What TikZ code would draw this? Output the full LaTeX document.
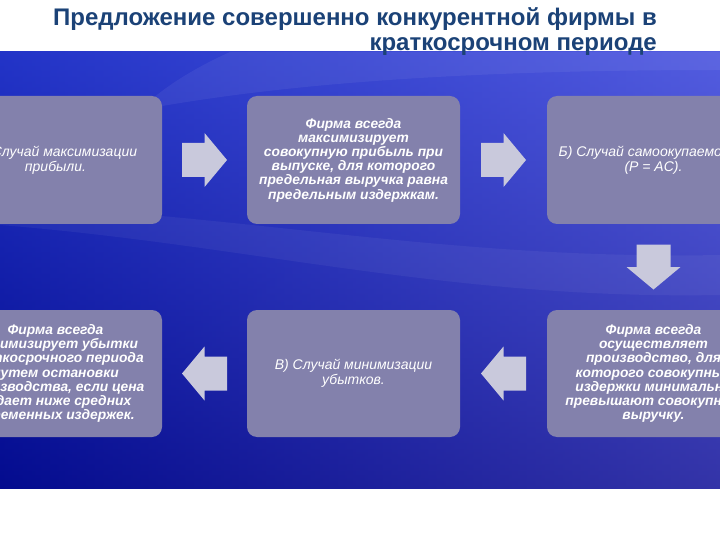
\documentclass[tikz,border=0pt]{standalone}
\usepackage{fontspec}
\setmainfont{Liberation Sans}
\usetikzlibrary{calc}
\definecolor{titleblue}{HTML}{1B4277}
\definecolor{boxgray}{HTML}{8381AC}
\definecolor{arrowgray}{HTML}{C9C9DC}
\definecolor{vtop}{RGB}{70,90,235}
\definecolor{vbot}{RGB}{8,8,120}
\definecolor{hleft}{RGB}{0,15,165}
\definecolor{hright}{RGB}{95,95,215}
\tikzset{
  box/.style={rectangle, rounded corners=10pt, fill=boxgray, minimum width=213pt, minimum height=128pt, inner sep=2pt, text=white, align=center, font=\fontsize{14}{15}\selectfont\itshape},
  boldbox/.style={box, font=\fontsize{13.8}{14.2}\selectfont\bfseries\itshape},
  barrow/.pic={\fill[arrowgray] (-22.5,-17) -- (0,-17) -- (0,-27) -- (22.5,0) -- (0,27) -- (0,17) -- (-22.5,17) -- cycle;},
}
\begin{document}
\begin{tikzpicture}[x=1pt,y=-1pt]
\useasboundingbox (0,0) rectangle (720,540);
\fill[white] (0,0) rectangle (720,540);
\begin{scope}
\clip (0,52) rectangle (720,488);
\shade[top color=vtop, bottom color=vbot] (0,52) rectangle (720,488);
\shade[left color=hleft, right color=hright, opacity=0.5] (0,52) rectangle (720,488);
\fill[white, opacity=0.05] (0,225) .. controls (250,245) and (450,300) .. (720,295) -- (720,255) .. controls (450,260) and (250,215) .. (0,205) -- cycle;
\fill[white, opacity=0.06] (140,110) .. controls (300,80) and (500,70) .. (720,70) -- (720,52) -- (230,52) .. controls (190,70) and (160,90) .. (140,110) -- cycle;
\node[box] (b1) at (55.5,160) {А) Случай максимизации\\прибыли.};
\node[boldbox] (b2) at (353.5,160) {Фирма всегда\\максимизирует\\совокупную прибыль при\\выпуске, для которого\\предельная выручка равна\\предельным издержкам.};
\node[box] (b3) at (653.5,160) {Б) Случай самоокупаемости\\(P = AC).};
\node[boldbox, minimum height=127pt] (b4) at (55.5,373.5) {Фирма всегда\\минимизирует убытки\\краткосрочного периода\\путем остановки\\производства, если цена\\падает ниже средних\\переменных издержек.};
\node[box, minimum height=127pt] (b5) at (353.5,373.5) {В) Случай минимизации\\убытков.};
\node[boldbox, minimum height=127pt] (b6) at (653.5,373.5) {Фирма всегда\\осуществляет\\производство, для\\которого совокупные\\издержки минимально\\превышают совокупную\\выручку.};
\coordinate (m1) at ($(b1.east)!0.5!(b2.west)$);
\coordinate (m2) at ($(b2.east)!0.5!(b3.west)$);
\coordinate (m3) at ($(b3.south)!0.5!(b6.north)$);
\coordinate (m4) at ($(b6.west)!0.5!(b5.east)$);
\coordinate (m5) at ($(b5.west)!0.5!(b4.east)$);
\pic at (m1) {barrow};
\pic at (m2) {barrow};
\pic[rotate=-90] at (m3) {barrow};
\pic[rotate=180] at (m4) {barrow};
\pic[rotate=180] at (m5) {barrow};
\end{scope}
\node[anchor=north east, align=right, text=titleblue, font=\fontsize{24}{25.5}\selectfont\bfseries, inner sep=0pt] (title) at (657,7) {Предложение совершенно конкурентной фирмы в\\краткосрочном периоде};
\end{tikzpicture}
\end{document}
